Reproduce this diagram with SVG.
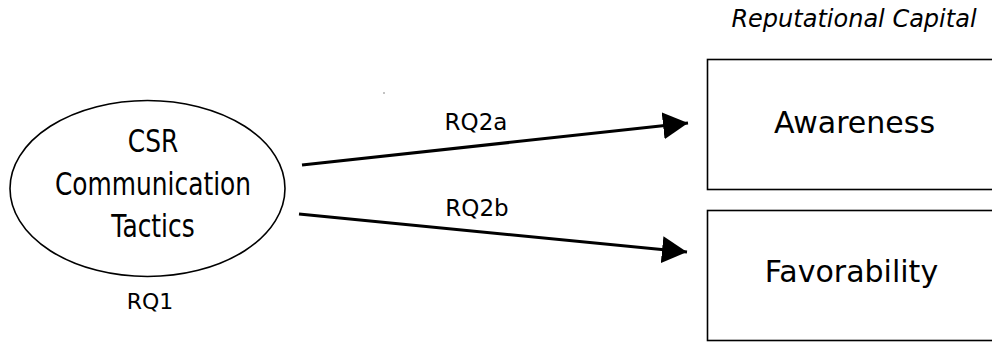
<svg xmlns="http://www.w3.org/2000/svg" width="992" height="343" viewBox="0 0 992 343">
<style>
.t{font-family:"DejaVu Sans","Liberation Sans",sans-serif;fill:#000;text-anchor:middle}
.c{font-family:"DejaVu Sans","Liberation Sans",sans-serif;font-size:32px;fill:#000;text-anchor:middle}
.box{fill:#fff;stroke:#000;stroke-width:1.6}
.ln{stroke:#000;stroke-width:3;fill:none}
</style>
<defs>
<marker id="ah" markerUnits="userSpaceOnUse" markerWidth="26" markerHeight="28" refX="25" refY="13.5" orient="auto" viewBox="0 0 26 28">
<path d="M0,0 L25,13.5 L0,27 Z" fill="#000"/>
</marker>
</defs>
<rect width="992" height="343" fill="#fff"/>
<text class="t" x="854" y="27" font-size="24" font-style="italic">Reputational Capital</text>
<g id="csr">
<ellipse cx="147.5" cy="188.5" rx="137.5" ry="88" fill="#fff" stroke="#000" stroke-width="1.6"/>
<g transform="translate(153,0) scale(0.778,1)">
<text class="c" x="0" y="152">CSR</text>
<text class="c" x="0" y="195">Communication</text>
<text class="c" x="0" y="237">Tactics</text>
</g>
<text class="t" x="150" y="309" font-size="22">RQ1</text>
</g>
<g id="awareness">
<rect class="box" x="707.5" y="59.5" width="300" height="130"/>
<text class="t" x="854.5" y="133" font-size="30">Awareness</text>
</g>
<g id="favorability">
<rect class="box" x="707.5" y="210.5" width="300" height="130"/>
<text class="t" x="851.5" y="282" font-size="30">Favorability</text>
</g>
<g id="connectors">
<line class="ln" x1="302" y1="165" x2="688" y2="123" marker-end="url(#ah)"/>
<text class="t" x="476" y="130" font-size="23">RQ2a</text>
<line class="ln" x1="299" y1="214" x2="687" y2="252" marker-end="url(#ah)"/>
<text class="t" x="477" y="216" font-size="23">RQ2b</text>
</g>
<rect x="383.5" y="92" width="1" height="2" fill="#888"/>
</svg>
